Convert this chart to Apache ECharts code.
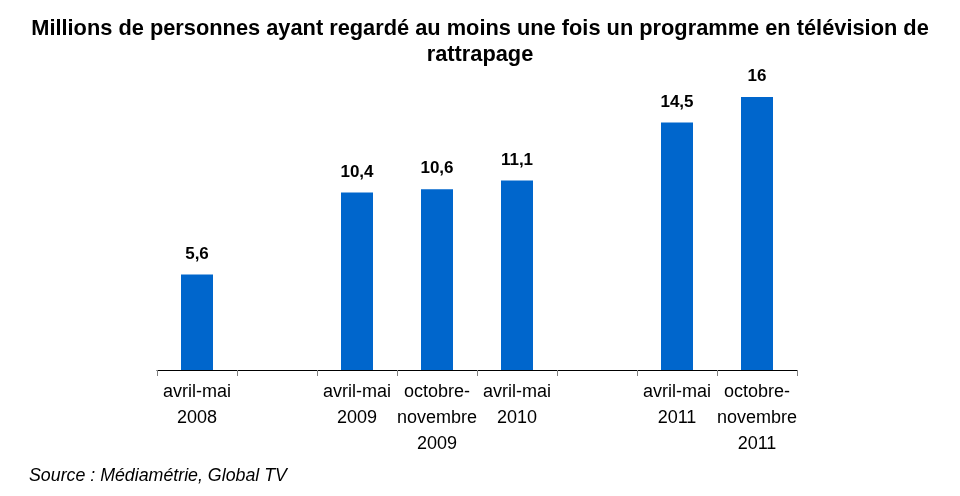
<!DOCTYPE html>
<html><head><meta charset="utf-8">
<script src="https://cdn.jsdelivr.net/npm/echarts@6/dist/echarts.min.js"></script>
<style>html,body{margin:0;padding:0;background:#fff}#c{width:960px;height:496px}</style>
</head><body><div id="c"></div>
<script>
const categories = ["avril-mai\n2008", "", "avril-mai\n2009", "octobre-\nnovembre\n2009", "avril-mai\n2010", "", "avril-mai\n2011", "octobre-\nnovembre\n2011"];
const values = [5.6, null, 10.4, 10.6, 11.1, null, 14.5, 16];
const titleText = "Millions de personnes ayant regardé au moins une fois un programme en télévision de\nrattrapage";
const sourceText = "Source : Médiamétrie, Global TV";

const chart = echarts.init(document.getElementById('c'), null, {renderer: 'canvas'});
chart.setOption({
  animation: false,
  backgroundColor: '#ffffff',
  title: {
    text: titleText,
    left: 'center',
    top: 11,
    textStyle: {fontFamily: 'Liberation Sans, Arial, sans-serif', fontWeight: 'bold', fontSize: 21.8, lineHeight: 26, color: '#000', align: 'center'}
  },
  graphic: [{
    type: 'text', left: 29, top: 467,
    style: {text: sourceText, fontFamily: 'Liberation Sans, Arial, sans-serif', fontStyle: 'italic', fontSize: 17.8, fill: '#000'}
  }],
  grid: {left: 157, right: 163, top: 97, bottom: 126, containLabel: false},
  xAxis: {
    type: 'category',
    data: categories,
    boundaryGap: true,
    axisLine: {lineStyle: {color: '#000', width: 1}},
    axisTick: {show: true, length: 6, lineStyle: {color: '#808080'}, interval: 0},
    axisLabel: {interval: 0, margin: 9, fontFamily: 'Liberation Sans, Arial, sans-serif', fontSize: 18, lineHeight: 26, color: '#000'}
  },
  yAxis: {type: 'value', min: 0, max: 16, show: false, splitLine: {show: false}},
  series: [{
    type: 'bar',
    data: values,
    barWidth: 32,
    itemStyle: {color: '#0066CC'},
    label: {
      show: true, position: 'top', distance: 12,
      formatter: p => String(p.value).replace('.', ','),
      fontFamily: 'Liberation Sans, Arial, sans-serif', fontWeight: 'bold', fontSize: 17, color: '#000'
    }
  }]
});
</script></body></html>
